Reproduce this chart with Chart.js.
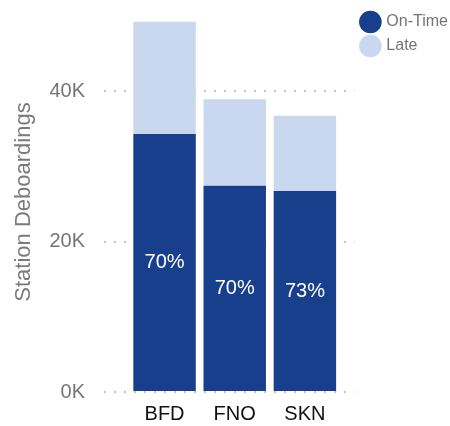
<!DOCTYPE html>
<html lang="en">
<head>
<meta charset="UTF-8">
<title>Station Deboardings</title>
<script src="https://cdn.jsdelivr.net/npm/chart.js"></script>
<style>
    body {
        margin: 0;
        overflow: hidden;
        background: #fff;
    }
    .wrap {
        width: 458px;
        height: 426px;
    }
</style>
</head>
<body>
<div class="wrap"><canvas id="chart"></canvas></div>

<script>
const stations = ['BFD', 'FNO', 'SKN'];
const onTime = [34300, 27400, 26700];
const late = [14900, 11500, 10000];
const yTicks = [0, 20000, 40000];

Chart.defaults.font.family = '"Liberation Sans", Arial, sans-serif';

// share of on-time deboardings, written in the middle of each dark bar
const pctLabels = {
    id: 'pctLabels',
    afterDatasetsDraw(chart) {
        const ctx = chart.ctx;
        const meta = chart.getDatasetMeta(0);
        ctx.save();
        ctx.fillStyle = '#ffffff';
        ctx.font = '20px "Liberation Sans", Arial, sans-serif';
        ctx.textAlign = 'center';
        ctx.textBaseline = 'middle';
        meta.data.forEach((bar, i) => {
            const pct = Math.round(onTime[i] / (onTime[i] + late[i]) * 100);
            ctx.fillText(pct + '%', bar.x, (bar.y + bar.base) / 2);
        });
        ctx.restore();
    }
};

new Chart(document.getElementById('chart'), {
    type: 'bar',
    data: {
        datasets: [{
            label: 'On-Time',
            data: stations.map((s, i) => ({ x: i, y: onTime[i] })),
            backgroundColor: '#173f8c',
            borderWidth: 0
        }, {
            label: 'Late',
            data: stations.map((s, i) => ({ x: i, y: late[i] })),
            backgroundColor: '#cad8ef',
            borderWidth: 0
        }]
    },
    options: {
        responsive: true,
        maintainAspectRatio: false,
        animation: false,
        barPercentage: 0.89,
        categoryPercentage: 1,
        layout: { padding: { left: 9, top: 6, bottom: 0 } },
        plugins: {
            tooltip: { enabled: false },
            legend: {
                position: 'right',
                align: 'start',
                labels: {
                    usePointStyle: true,
                    pointStyle: 'circle',
                    color: '#757575',
                    padding: 8,
                    font: { size: 16 }
                }
            }
        },
        scales: {
            x: {
                type: 'linear',
                stacked: true,
                offset: false,
                min: -0.863,
                max: 2.705,
                afterBuildTicks: scale => {
                    scale.ticks = stations.map((s, i) => ({ value: i }));
                },
                // tick marks only used as spacing under the bars
                grid: { display: true, drawOnChartArea: false, drawTicks: true, tickLength: 10, tickColor: 'transparent', offset: false },
                border: { display: false },
                ticks: {
                    callback: v => stations[v],
                    color: '#111111',
                    font: { size: 20 },
                    padding: 0,
                    maxRotation: 0
                }
            },
            y: {
                stacked: true,
                min: 0,
                max: 50500,
                afterBuildTicks: scale => {
                    scale.ticks = yTicks.map(v => ({ value: v }));
                },
                grid: { color: '#c4c4c4', lineWidth: 2, drawTicks: true, tickLength: 19, tickColor: 'transparent' },
                border: { display: false, dash: [2, 8] },
                ticks: {
                    callback: v => v / 1000 + 'K',
                    color: '#757575',
                    font: { size: 20 },
                    padding: 0
                },
                title: {
                    display: true,
                    text: 'Station Deboardings',
                    color: '#7a7a7a',
                    font: { size: 22 },
                    padding: { top: 2, bottom: 12 }
                }
            }
        }
    },
    plugins: [pctLabels]
});
</script>
</body>
</html>
